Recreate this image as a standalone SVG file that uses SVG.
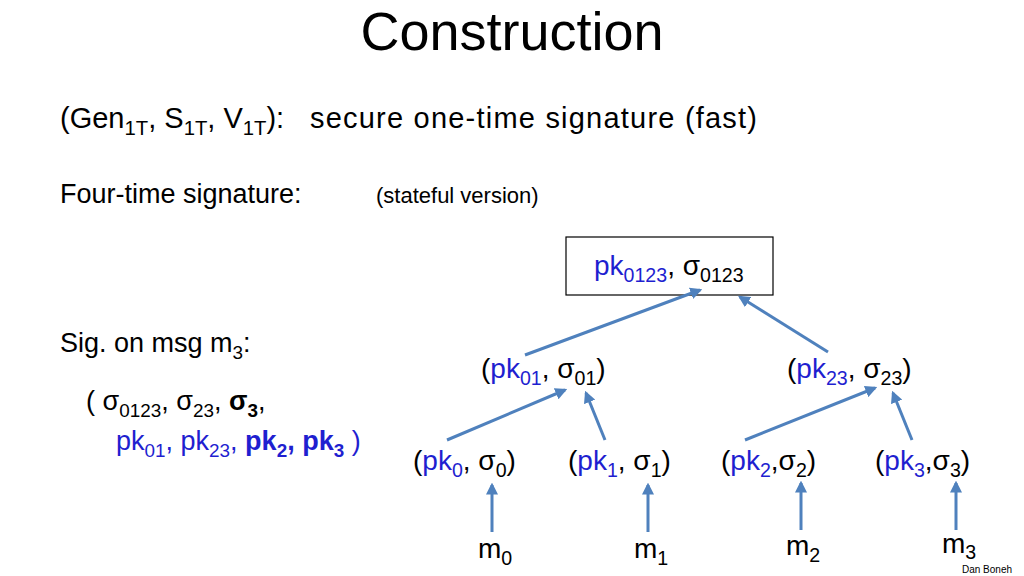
<svg xmlns="http://www.w3.org/2000/svg" width="1024" height="576" viewBox="0 0 1024 576">
<defs>
<marker id="ah" viewBox="0 0 10 10" refX="8" refY="5" markerWidth="4" markerHeight="4" orient="auto"><path d="M0,0 L10,5 L0,10 z" fill="#4f81bd"/></marker>
<style>
text{font-family:"Liberation Sans",Arial,sans-serif;fill:#000}
.b{fill:#1f1fd0}
.s{font-size:70%}
.c{stroke:#4f81bd;stroke-width:3;fill:none;marker-end:url(#ah)}
.n{font-size:28px}
</style>
</defs>
<rect width="1024" height="576" fill="#fff"/>
<text x="512" y="50" font-size="54" text-anchor="middle">Construction</text>
<text x="60" y="128" font-size="29">(Gen<tspan class="s" dy="7">1T</tspan><tspan dy="-7">, S</tspan><tspan class="s" dy="7">1T</tspan><tspan dy="-7">, V</tspan><tspan class="s" dy="7">1T</tspan><tspan dy="-7">):</tspan></text>
<text x="310" y="128" font-size="29" textLength="447">secure one-time signature  (fast)</text>
<text x="60" y="203" font-size="27">Four-time signature:</text>
<text x="376" y="203" font-size="22">(stateful version)</text>
<g id="root"><rect x="566" y="237" width="207" height="58" fill="none" stroke="#000" stroke-width="1.2"/>
<text x="594" y="275" class="n"><tspan class="b">pk</tspan><tspan class="s b" dy="7">0123</tspan><tspan dy="-7">,  σ</tspan><tspan class="s" dy="7">0123</tspan></text></g>
<text x="60" y="352" font-size="27">Sig. on msg m<tspan class="s" dy="7">3</tspan><tspan dy="-7">:</tspan></text>
<text x="86" y="410" font-size="27">(  σ<tspan class="s" dy="7">0123</tspan><tspan dy="-7">, σ</tspan><tspan class="s" dy="7">23</tspan><tspan dy="-7">, </tspan><tspan font-weight="bold">σ</tspan><tspan class="s" font-weight="bold" dy="7">3</tspan><tspan dy="-7">,</tspan></text>
<text x="116" y="450" font-size="27" class="b">pk<tspan class="s" dy="7">01</tspan><tspan dy="-7">, pk</tspan><tspan class="s" dy="7">23</tspan><tspan dy="-7">, </tspan><tspan font-weight="bold">pk</tspan><tspan class="s" font-weight="bold" dy="7">2</tspan><tspan font-weight="bold" dy="-7">, pk</tspan><tspan class="s" font-weight="bold" dy="7">3</tspan><tspan dy="-7"> )</tspan></text>
<g id="n01"><text x="481" y="378" class="n">(<tspan class="b">pk</tspan><tspan class="s b" dy="7">01</tspan><tspan dy="-7">, σ</tspan><tspan class="s" dy="7">01</tspan><tspan dy="-7">)</tspan></text></g>
<g id="n23"><text x="787" y="378" class="n">(<tspan class="b">pk</tspan><tspan class="s b" dy="7">23</tspan><tspan dy="-7">, σ</tspan><tspan class="s" dy="7">23</tspan><tspan dy="-7">)</tspan></text></g>
<g id="n0"><text x="413" y="470" class="n">(<tspan class="b">pk</tspan><tspan class="s b" dy="7">0</tspan><tspan dy="-7">, σ</tspan><tspan class="s" dy="7">0</tspan><tspan dy="-7">)</tspan></text></g>
<g id="n1"><text x="568" y="470" class="n">(<tspan class="b">pk</tspan><tspan class="s b" dy="7">1</tspan><tspan dy="-7">, σ</tspan><tspan class="s" dy="7">1</tspan><tspan dy="-7">)</tspan></text></g>
<g id="n2"><text x="721" y="470" class="n">(<tspan class="b">pk</tspan><tspan class="s b" dy="7">2</tspan><tspan dy="-7">,σ</tspan><tspan class="s" dy="7">2</tspan><tspan dy="-7">)</tspan></text></g>
<g id="n3"><text x="875" y="470" class="n">(<tspan class="b">pk</tspan><tspan class="s b" dy="7">3</tspan><tspan dy="-7">,σ</tspan><tspan class="s" dy="7">3</tspan><tspan dy="-7">)</tspan></text></g>
<g id="m0"><text x="478" y="558" class="n">m<tspan class="s" dy="7">0</tspan></text></g>
<g id="m1"><text x="634" y="558" class="n">m<tspan class="s" dy="7">1</tspan></text></g>
<g id="m2"><text x="786" y="555" class="n">m<tspan class="s" dy="7">2</tspan></text></g>
<g id="m3"><text x="942" y="553" class="n">m<tspan class="s" dy="6">3</tspan></text></g>
<g id="connectors">
<line class="c" x1="492" y1="532" x2="492" y2="485"/>
<line class="c" x1="648" y1="532" x2="648" y2="485"/>
<line class="c" x1="801" y1="530" x2="801" y2="483"/>
<line class="c" x1="956" y1="530" x2="956" y2="483"/>
<line class="c" x1="447" y1="440" x2="565" y2="390"/>
<line class="c" x1="605" y1="440" x2="586" y2="393"/>
<line class="c" x1="745" y1="440" x2="875" y2="388"/>
<line class="c" x1="912" y1="440" x2="893" y2="393"/>
<line class="c" x1="525" y1="355" x2="700" y2="290"/>
<line class="c" x1="828" y1="352" x2="740" y2="297"/>
</g>
<text x="962" y="573" font-size="10">Dan Boneh</text>
</svg>
